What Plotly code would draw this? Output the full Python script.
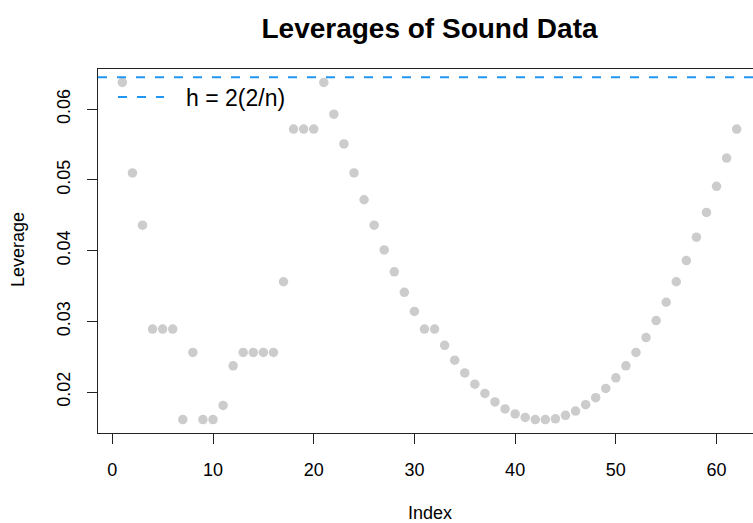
import plotly.graph_objects as go

# ---- data ----
index = list(range(1, 63))
leverage = [0.0638, 0.0510, 0.0436, 0.0289, 0.0289, 0.0289, 0.0161, 0.0256, 0.0161, 0.0161,
            0.0181, 0.0237, 0.0256, 0.0256, 0.0256, 0.0256, 0.0356, 0.0572, 0.0572, 0.0572,
            0.0638, 0.0593, 0.0551, 0.0510, 0.0472, 0.0436, 0.0401, 0.0370, 0.0341, 0.0314,
            0.0289, 0.0289, 0.0266, 0.0245, 0.0227, 0.0211, 0.0198, 0.0186, 0.0176, 0.0169,
            0.0164, 0.0161, 0.0161, 0.0162, 0.0167, 0.0173, 0.0182, 0.0192, 0.0205, 0.0220,
            0.0237, 0.0256, 0.0277, 0.0301, 0.0327, 0.0356, 0.0386, 0.0419, 0.0454, 0.0491,
            0.0531, 0.0572]
n_obs = len(leverage)
h_threshold = 2 * (2 / n_obs)
x_ticks = [0, 10, 20, 30, 40, 50, 60]
y_ticks = [0.02, 0.03, 0.04, 0.05, 0.06]
y_tick_labels = ["0.02", "0.03", "0.04", "0.05", "0.06"]
legend_label = "h = 2(2/n)"

FONT = "Liberation Sans, Arial, Helvetica, sans-serif"
W, H = 753, 523
L, T, B, R = 98, 69, 90, 0
LINE_COLOR = "#2196F3"

fig = go.Figure()
fig.add_trace(go.Scatter(
    x=index, y=leverage, mode="markers",
    marker=dict(color="#CCCCCC", size=9.5, line=dict(width=0)),
    showlegend=False, hoverinfo="x+y",
))
fig.add_hline(y=h_threshold, line=dict(color=LINE_COLOR, width=2, dash="9px,10px"))

# legend key (manual, R-style, no box)
fig.add_shape(type="line", xref="paper", yref="paper",
              x0=(118 - L) / (W - L - R), x1=(164 - L) / (W - L - R),
              y0=1 - (97 - T) / (H - T - B), y1=1 - (97 - T) / (H - T - B),
              line=dict(color=LINE_COLOR, width=2, dash="9px,10px"))
fig.add_annotation(text=legend_label, xref="paper", yref="paper",
                   x=(184 - L) / (W - L - R), y=1 - (98 - T) / (H - T - B),
                   xanchor="left", yanchor="middle", showarrow=False,
                   font=dict(family=FONT, size=23, color="black"))

# axis titles
fig.add_annotation(text="Index", xref="paper", yref="paper",
                   x=(429.5 - L) / (W - L - R), y=-(513 - (H - B)) / (H - T - B),
                   xanchor="center", yanchor="middle", showarrow=False,
                   font=dict(family=FONT, size=18, color="black"))
fig.add_annotation(text="Leverage", xref="paper", yref="paper",
                   x=-(L - 18) / (W - L - R), y=1 - (250 - T) / (H - T - B),
                   xanchor="center", yanchor="middle", textangle=-90, showarrow=False,
                   font=dict(family=FONT, size=18, color="black"))

fig.update_layout(
    width=W, height=H,
    margin=dict(l=L, r=R, t=T, b=B, pad=0),
    paper_bgcolor="white", plot_bgcolor="white",
    title=dict(text="<b>Leverages of Sound Data</b>", xref="container", yref="container",
               x=429.5 / W, y=1 - 28 / H, xanchor="center", yanchor="middle",
               font=dict(family=FONT, size=28, color="black")),
    font=dict(family=FONT, size=18, color="black"),
    showlegend=False,
)
fig.update_xaxes(range=[-1.42, 63.62], tickmode="array", tickvals=x_ticks,
                 ticks="outside", ticklen=10, tickwidth=1, tickcolor="#222",
                 showline=True, linecolor="#222", linewidth=1, mirror=True,
                 showgrid=False, zeroline=False, ticklabelstandoff=10,
                 tickfont=dict(family=FONT, size=18, color="black"))
fig.update_yaxes(range=[0.0142, 0.0657], tickmode="array", tickvals=y_ticks,
                 ticktext=y_tick_labels, tickangle=-90,
                 ticks="outside", ticklen=10, tickwidth=1, tickcolor="#222",
                 showline=True, linecolor="#222", linewidth=1, mirror=False,
                 showgrid=False, zeroline=False, ticklabelstandoff=10,
                 tickfont=dict(family=FONT, size=18, color="black"))

fig.write_html("out.html")
